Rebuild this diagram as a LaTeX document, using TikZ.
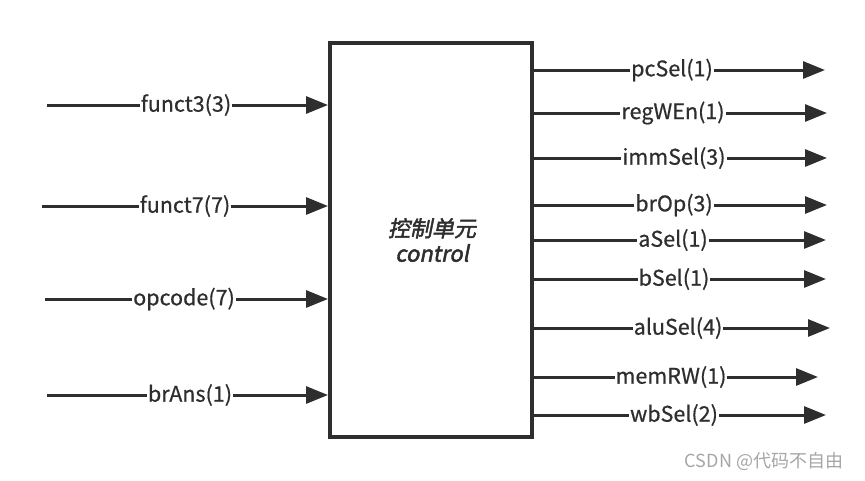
\documentclass[tikz,border=0pt]{standalone}
\usepackage{fontspec}
\setmainfont{Noto Sans CJK SC}[FakeBold=0.6]
\newfontfamily\cjkbold[FakeSlant=0.2,FakeBold=2]{Noto Sans CJK SC}
\newfontfamily\wmfont{Noto Sans CJK SC}
\usetikzlibrary{arrows.meta}
\definecolor{ink}{HTML}{2E2E2E}
\tikzset{
  sig/.style={draw=ink, line width=3pt, -{Triangle[length=22pt,width=17pt]}},
  lbl/.style={fill=white, inner sep=1pt, font=\fontsize{21.5pt}{23pt}\selectfont, text=ink},
  unit/.style={draw=ink, line width=4pt, fill=white, inner sep=0pt}
}
\begin{document}
\begin{tikzpicture}[x=1pt,y=-1pt]
\useasboundingbox (0,0) rectangle (865,480);
\node[unit, minimum width=202pt, minimum height=394pt] (cu) at (431,240) {};
\node[font=\cjkbold\fontsize{22pt}{25pt}\selectfont, text=ink, align=center] (cut) at (432,240) {控制单元\\control};
% inputs
\coordinate (i1) at (47,105);
\coordinate (i2) at (42,206);
\coordinate (i3) at (45,299);
\coordinate (i4) at (47,395);
\foreach \c/\t/\lx [count=\k] in {i1/funct3(3)/186, i2/funct7(7)/185, i3/opcode(7)/184, i4/brAns(1)/190}{
  \draw[sig] (\c) -- (\c -| cu.west);
  \node[lbl] (in\k) at (\lx, 0 |- \c) {\t};
}
% outputs
\coordinate (o1) at (825,70);
\coordinate (o2) at (827,113);
\coordinate (o3) at (827,158);
\coordinate (o4) at (827,205);
\coordinate (o5) at (826,240);
\coordinate (o6) at (826,279);
\coordinate (o7) at (830,328);
\coordinate (o8) at (818,377);
\coordinate (o9) at (826,415);
\foreach \c/\t/\lx [count=\k] in {o1/pcSel(1)/672, o2/regWEn(1)/673, o3/immSel(3)/674, o4/brOp(3)/674, o5/aSel(1)/673, o6/bSel(1)/674, o7/aluSel(4)/678, o8/memRW(1)/671, o9/wbSel(2)/674}{
  \draw[sig] (\c -| cu.east) -- (\c);
  \node[lbl] (out\k) at (\lx, 0 |- \c) {\t};
}
\node[text=black!35, font=\wmfont\fontsize{18pt}{20pt}\selectfont] (wm) at (764,461) {CSDN @代码不自由};
\end{tikzpicture}
\end{document}
